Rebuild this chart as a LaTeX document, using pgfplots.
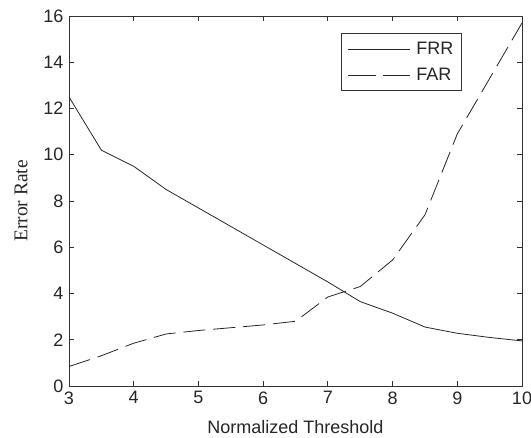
\documentclass[border=0pt]{standalone}
\usepackage{pgfplots}
\pgfplotsset{compat=1.18}
\usepackage{fontspec}
\setmainfont{Liberation Sans}
\newfontfamily\seriffont{Liberation Serif}
\usetikzlibrary{calc}
\begin{document}
\begin{tikzpicture}
\begin{axis}[
  scale only axis,
  width=453pt, height=370pt,
  xmin=3, xmax=10, ymin=0, ymax=16,
  xtick={3,4,5,6,7,8,9,10},
  ytick={0,2,4,6,8,10,12,14,16},
  tick align=inside,
  major tick length=5pt,
  axis line style={line width=0.9pt, black!80},
  every tick/.style={line width=0.9pt, black!80},
  /pgf/number format/assume math mode=true,
  tick label style={font=\fontsize{18}{21}\selectfont, text=black!85},
  xticklabel style={yshift=-2pt},
  yticklabel style={xshift=-2pt},
  xlabel={Normalized Threshold},
  xlabel style={font=\fontsize{18}{21}\selectfont, text=black!85, yshift=-9pt},
  ylabel={Error Rate},
  ylabel style={font=\seriffont\fontsize{19.5}{22}\selectfont, text=black!85, yshift=9pt},
  legend style={at={(axis cs:9.07,15.28)}, anchor=north east, draw=black!80, line width=0.9pt,
    font=\fontsize{18}{21}\selectfont, text=black!85, inner xsep=6pt, inner ysep=7pt,
    row sep=8pt, cells={anchor=west}},
  legend cell align=left,
  legend image code/.code={\draw[#1] (0pt,0pt) -- (62pt,0pt); \path (66pt,0pt);},
]
\addplot[black!85, line width=0.8pt] coordinates {
  (3,12.5) (3.5,10.2) (4,9.5) (4.5,8.5) (5,7.7) (5.5,6.9) (6,6.1) (6.5,5.3)
  (7,4.5) (7.5,3.65) (8,3.15) (8.5,2.55) (9,2.28) (9.5,2.1) (10,1.95)
};
\addlegendentry{FRR}
\addplot[black!85, line width=0.8pt, dash pattern=on 22pt off 8pt,
  legend image code/.code={\draw[black!85, line width=0.8pt, dash pattern=on 28pt off 7pt] (0pt,0pt) -- (62pt,0pt); \path (66pt,0pt);}] coordinates {
  (3,0.84) (3.5,1.31) (4,1.85) (4.5,2.25) (5,2.4) (5.5,2.52) (6,2.64) (6.5,2.8)
  (7,3.85) (7.5,4.3) (8,5.45) (8.5,7.4) (9,10.9) (9.5,13.3) (10,15.7)
};
\addlegendentry{FAR}
\end{axis}
\pgfresetboundingbox
\path[use as bounding box] ($(current axis.south west)+(-69pt,-51pt)$) rectangle ($(current axis.north east)+(9pt,16pt)$);
\end{tikzpicture}
\end{document}
